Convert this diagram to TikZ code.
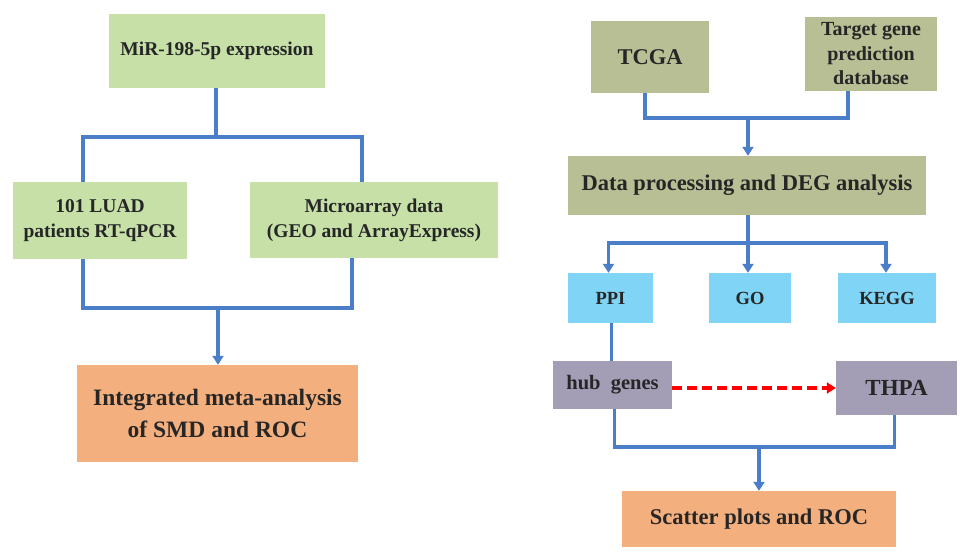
\documentclass[tikz,border=0pt]{standalone}
\usepackage{fontspec}
\setmainfont{Liberation Serif}
\usepackage{xcolor}
\usepackage{tikz}
\usetikzlibrary{positioning,arrows.meta}
\definecolor{boxgreen}{RGB}{198,224,168}
\definecolor{boxolive}{RGB}{185,191,148}
\definecolor{boxcyan}{RGB}{128,212,246}
\definecolor{boxpurple}{RGB}{163,157,182}
\definecolor{boxorange}{RGB}{244,175,126}
\definecolor{linkblue}{RGB}{74,126,200}

\begin{document}
\begin{tikzpicture}[
    x=1pt, y=-1pt,
    box/.style={rectangle, inner sep=0pt, align=center, font=\bfseries\fontsize{19.5}{25}\selectfont, text=black!85},
    green/.style={box, fill=boxgreen},
    olive/.style={box, fill=boxolive},
    cyan/.style={box, fill=boxcyan, font=\bfseries\fontsize{18.5}{22}\selectfont},
    purple/.style={box, fill=boxpurple},
    orange/.style={box, fill=boxorange},
    conn/.style={draw=linkblue, line width=3.5pt},
    arr/.style={conn, -{Triangle[width=11pt,length=9pt]}},
    dasharr/.style={draw=red, line width=3.5pt, dash pattern=on 10pt off 5pt, -{Triangle[width=11pt,length=9pt]}}
]
    \useasboundingbox (0,0) rectangle (969,559);

    % Nodes, left branch
    \node[green, minimum width=216pt, minimum height=74pt] (mir) at (217,51) {MiR-198-5p expression};
    \node[green, minimum width=174pt, minimum height=77pt] (luad) at (100,220.5) {101 LUAD\\patients RT-qPCR};
    \node[green, minimum width=248pt, minimum height=76pt] (micro) at (374,220) {Microarray data\\(GEO and ArrayExpress)};
    \node[orange, minimum width=281pt, minimum height=97pt, font=\bfseries\fontsize{23.5}{32}\selectfont] (meta) at (217.5,413.5) {Integrated meta-analysis\\of SMD and ROC};

    % Nodes, right branch
    \node[olive, minimum width=118pt, minimum height=72pt, font=\bfseries\fontsize{22.5}{26}\selectfont] (tcga) at (650,57) {TCGA};
    \node[olive, minimum width=132pt, minimum height=74pt, font=\bfseries\fontsize{20}{24.5}\selectfont] (target) at (871,54) {Target gene\\prediction\\database};
    \node[olive, minimum width=358pt, minimum height=59pt, font=\bfseries\fontsize{22.5}{26}\selectfont] (deg) at (747,185.5) {Data processing and DEG analysis};
    \node[cyan, minimum width=85pt, minimum height=50pt] (ppi) at (610.5,298) {PPI};
    \node[cyan, minimum width=82pt, minimum height=50pt] (go) at (750,298) {GO};
    \node[cyan, minimum width=98pt, minimum height=50pt] (kegg) at (887,298) {KEGG};
    \node[purple, minimum width=119pt, minimum height=48pt, font=\bfseries\fontsize{20.5}{24}\selectfont] (hub) at (612.5,385) {hub\ \ genes};
    \node[purple, minimum width=121pt, minimum height=54pt, font=\bfseries\fontsize{23}{26}\selectfont] (thpa) at (896.5,388) {THPA};
    \node[orange, minimum width=274pt, minimum height=56pt, font=\bfseries\fontsize{22.5}{26}\selectfont] (scat) at (759,519) {Scatter plots and ROC};

    % Connections, left branch
    \coordinate (splitL) at (216,137);
    \coordinate (joinL) at (218,308);
    \draw[conn] (mir.south -| splitL) -- (splitL);
    \draw[conn] ([xshift=-17pt]luad.north) -- ++(0,-45) -| ([xshift=-12pt]micro.north);
    \draw[conn] ([xshift=-17pt]luad.south) -- ++(0,49) -| ([xshift=-22pt]micro.south);
    \draw[arr] (joinL) -- (meta.north -| joinL);

    % Connections, right branch
    \coordinate (splitR) at (748,118);
    \coordinate (fanR) at (748,243);
    \coordinate (joinR) at (759,447);
    \draw[conn] ([xshift=-5pt]tcga.south) -- ++(0,25) -| ([xshift=-23pt]target.south);
    \draw[arr] (splitR) -- (deg.north -| splitR);
    \draw[conn] (deg.south -| fanR) -- (fanR);
    \draw[arr] (fanR) -| ([xshift=-2pt]ppi.north);
    \draw[arr] (fanR) -- (go.north -| fanR);
    \draw[arr] (fanR) -| ([xshift=-1pt]kegg.north);
    \draw[conn] ([xshift=1pt]ppi.south) -- ([xshift=1pt]ppi.south |- hub.north);
    \draw[dasharr] (hub.east |- thpa.west) -- (thpa.west);
    \draw[conn] ([xshift=2pt]hub.south) -- ++(0,38) -| ([xshift=-2pt]thpa.south);
    \draw[arr] (joinR) -- (scat.north -| joinR);
\end{tikzpicture}
\end{document}
